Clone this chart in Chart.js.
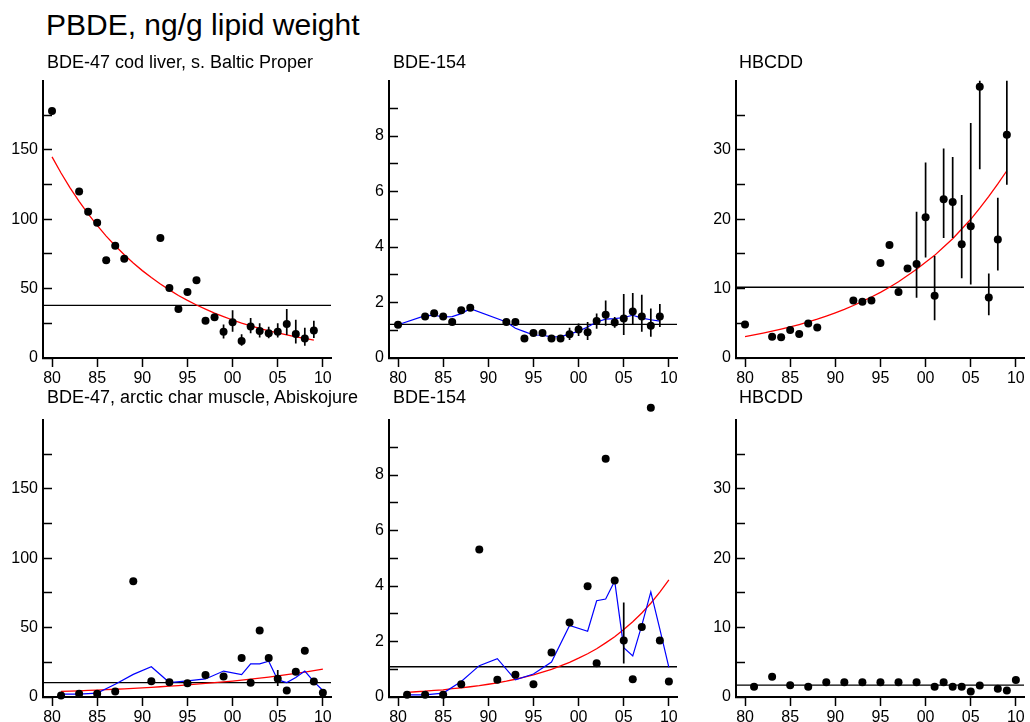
<!DOCTYPE html>
<html>
<head>
<meta charset="utf-8">
<script src="https://cdn.jsdelivr.net/npm/chart.js@4.4.0/dist/chart.umd.min.js"></script>
<style>
  body { margin: 0; background: #fff; }
  #page { position: relative; width: 1030px; height: 722px; overflow: hidden; background: #fff; font-family: 'Liberation Sans', Arial, sans-serif; color: #000; }
  #page canvas { position: absolute; }
  .title { position: absolute; left: 46px; top: 10px; font-size: 30px; line-height: 30px; white-space: nowrap; z-index: 2; }
  .sub { position: absolute; font-size: 18px; line-height: 18px; white-space: nowrap; z-index: 2; }
</style>
</head>
<body>
<div id="page">
  <div class="title">PBDE, ng/g lipid weight</div>
  <div class="sub" style="left:47px; top:53px">BDE-47 cod liver, s. Baltic Proper</div>
  <div class="sub" style="left:393px; top:53px">BDE-154</div>
  <div class="sub" style="left:739px; top:53px">HBCDD</div>
  <div class="sub" style="left:47px; top:388px">BDE-47, arctic char muscle, Abiskojure</div>
  <div class="sub" style="left:393px; top:388px">BDE-154</div>
  <div class="sub" style="left:739px; top:388px">HBCDD</div>
  <canvas id="c1"></canvas>
  <canvas id="c2"></canvas>
  <canvas id="c3"></canvas>
  <canvas id="c4"></canvas>
  <canvas id="c5"></canvas>
  <canvas id="c6"></canvas>
</div>
<script>
'use strict';

// x axis, shared by all six panels
const x_min = 1979;
const x_max = 2010.9;
const x_ticks = [1980, 1985, 1990, 1995, 2000, 2005, 2010];
const x_tick_labels = ['80', '85', '90', '95', '00', '05', '10'];

// y ticks: every tick is drawn, only some carry a label
const y_ticks_47 = [0, 25, 50, 75, 100, 125, 150, 175];
const y_labels_47 = [0, 50, 100, 150];
const y_ticks_154 = [0, 1, 2, 3, 4, 5, 6, 7, 8, 9];
const y_labels_154 = [0, 2, 4, 6, 8];
const y_ticks_hbcdd = [0, 5, 10, 15, 20, 25, 30, 35];
const y_labels_hbcdd = [0, 10, 20, 30];

// cod liver, southern Baltic Proper
const cod_years = [1980, 1983, 1984, 1985, 1986, 1987, 1988, 1992, 1993, 1994, 1995, 1996, 1997,
                   1998, 1999, 2000, 2001, 2002, 2003, 2004, 2005, 2006, 2007, 2008, 2009];
const cod_err_years = [1999, 2000, 2001, 2002, 2003, 2004, 2005, 2006, 2007, 2008, 2009];
const cod_trend_years = [1980, 1981, 1982, 1983, 1984, 1985, 1986, 1987, 1988, 1989, 1990, 1991, 1992, 1993, 1994,
                         1995, 1996, 1997, 1998, 1999, 2000, 2001, 2002, 2003, 2004, 2005, 2006, 2007, 2008, 2009];

const cod_bde47 = [178, 120, 105.5, 97.5, 70.5, 81, 71.5, 86.5, 50.5, 35.3, 47.5, 56, 26.8,
                   29.4, 19, 25.8, 12.3, 22.7, 19.4, 17.8, 19, 24.6, 17.3, 14, 19.9];
const cod_bde47_lo = [14.0, 19.0, 8.8, 17.8, 14.7, 14.2, 14.7, 16.6, 10.4, 8.8, 14.5];
const cod_bde47_hi = [24.2, 34.4, 17.1, 28.9, 25.1, 22.5, 25.1, 35.3, 27.5, 21.8, 26.8];
const cod_bde47_trend = [145, 133.4, 122.7, 112.9, 103.9, 95.6, 87.9, 80.9, 74.4, 68.5, 63.0, 58.0, 53.3, 49.1, 45.1,
                         41.5, 38.2, 35.2, 32.3, 29.8, 27.4, 25.2, 23.2, 21.3, 19.6, 18.1, 16.6, 15.3, 14.1, 12.9];
const cod_bde47_mean = 37.9;

const cod_bde154 = [1.20, 1.50, 1.61, 1.50, 1.30, 1.72, 1.81, 1.30, 1.30, 0.70, 0.90, 0.90, 0.70,
                    0.70, 0.86, 1.03, 0.93, 1.33, 1.56, 1.28, 1.42, 1.68, 1.50, 1.16, 1.50];
const cod_bde154_lo = [0.65, 0.79, 0.65, 1.05, 1.16, 1.09, 0.83, 1.21, 0.95, 0.77, 1.12];
const cod_bde154_hi = [1.09, 1.24, 1.30, 1.60, 2.07, 1.48, 2.31, 2.34, 2.28, 1.78, 1.95];
const cod_bde154_smooth = [1.20, 1.53, 1.54, 1.48, 1.49, 1.60, 1.78, 1.30, 1.07, 0.95, 0.83, 0.82, 0.76,
                           0.77, 0.86, 0.97, 1.12, 1.30, 1.40, 1.42, 1.46, 1.54, 1.44, 1.38, 1.33];
const cod_bde154_mean = 1.21;

const cod_hbcdd = [4.83, 3.08, 2.99, 4.03, 3.46, 4.98, 4.41, 8.29, 8.10, 8.29, 13.7, 16.3, 9.53,
                   12.9, 13.55, 20.3, 8.96, 22.9, 22.5, 16.4, 19.0, 39.1, 8.72, 17.1, 32.2];
const cod_hbcdd_lo = [8.67, 14.5, 5.45, 17.3, 17.3, 11.5, 10.6, 27.2, 6.16, 12.6, 25.0];
const cod_hbcdd_hi = [21.1, 28.2, 14.7, 30.2, 29.0, 23.5, 33.9, 40, 12.2, 23.1, 40];
const cod_hbcdd_trend = [3.08, 3.32, 3.58, 3.86, 4.16, 4.48, 4.83, 5.21, 5.61, 6.05, 6.52, 7.02, 7.57, 8.16, 8.79,
                         9.47, 10.2, 11.0, 11.9, 12.8, 13.8, 14.8, 16.0, 17.2, 18.6, 20.0, 21.6, 23.3, 25.1, 27.0];
const cod_hbcdd_mean = 10.2;

// arctic char muscle, Abiskojure
const char_years = [1981, 1983, 1985, 1987, 1989, 1991, 1993, 1995, 1997, 1999,
                    2001, 2002, 2003, 2004, 2005, 2006, 2007, 2008, 2009, 2010];
const char_err_years = [2005];
const char_trend_years = [1981, 1982, 1983, 1984, 1985, 1986, 1987, 1988, 1989, 1990, 1991, 1992, 1993, 1994, 1995,
                          1996, 1997, 1998, 1999, 2000, 2001, 2002, 2003, 2004, 2005, 2006, 2007, 2008, 2009, 2010];

const char_bde47 = [1.0, 2.4, 2.4, 4.0, 83.5, 11.4, 10.6, 9.9, 15.9, 14.7,
                    28.2, 10.2, 48.0, 28.2, 13.2, 4.7, 18.2, 33.4, 11.1, 3.1];
const char_bde47_smooth = [2.1, 2.1, 2.8, 9.2, 16.3, 21.8, 10.4, 11.6, 13.0, 18.7,
                           16.1, 23.9, 23.9, 25.8, 12.3, 10.4, 14.0, 18.7, 11.1, 4.7];
const char_bde47_lo = [8.0];
const char_bde47_hi = [19.4];
const char_bde47_trend = [4.0, 4.23, 4.47, 4.73, 5.0, 5.28, 5.59, 5.91, 6.25, 6.61, 6.99, 7.39, 7.81, 8.26, 8.73,
                          9.23, 9.76, 10.3, 10.9, 11.5, 12.2, 12.9, 13.6, 14.4, 15.2, 16.1, 17.0, 18.0, 19.0, 20.1];
const char_bde47_mean = 10.4;

const char_bde154 = [0.08, 0.08, 0.08, 0.46, 5.32, 0.62, 0.80, 0.46, 1.60, 2.69,
                     3.99, 1.22, 8.59, 4.20, 2.04, 0.64, 2.52, 10.43, 2.04, 0.56];
const char_bde154_smooth = [0.08, 0.08, 0.14, 0.56, 1.13, 1.38, 0.62, 0.83, 1.26, 2.58,
                            2.37, 3.47, 3.53, 4.18, 1.78, 1.48, 2.58, 3.79, 2.45, 1.07];
const char_bde154_lo = [1.21];
const char_bde154_hi = [3.41];
const char_bde154_trend = [0.17, 0.19, 0.21, 0.24, 0.26, 0.30, 0.33, 0.37, 0.41, 0.46, 0.51, 0.57, 0.64, 0.72, 0.80,
                           0.90, 1.00, 1.12, 1.25, 1.40, 1.56, 1.74, 1.95, 2.17, 2.43, 2.71, 3.03, 3.38, 3.78, 4.22];
const char_bde154_mean = 1.09;

const char_hbcdd_years = [1981, 1983, 1985, 1987, 1989, 1991, 1993, 1995, 1997, 1999,
                          2001, 2002, 2003, 2004, 2005, 2006, 2008, 2009, 2010];
const char_hbcdd = [1.47, 2.93, 1.70, 1.47, 2.13, 2.13, 2.13, 2.13, 2.13, 2.13,
                    1.47, 2.13, 1.47, 1.47, 0.80, 1.66, 1.18, 0.95, 2.46];
const char_hbcdd_mean = 1.70;

const FONT = "'Liberation Sans', Arial, sans-serif";
const AXIS_W = 43;      // room for the y labels, left of the plot
const CANVAS_W = 360;
const PAD_TOP = 20;
const X_AXIS_H = 32;
const DOT_R = 4;

const pairs = (xs, ys) => xs.map((x, i) => ({ x: x, y: ys[i] }));

// error bars as one broken line: lo, hi, gap, lo, hi, gap ...
const error_bars = (xs, lo, hi) => {
    const out = [];
    xs.forEach((x, i) => {
        out.push({ x: x, y: lo[i] }, { x: x, y: hi[i] }, { x: x, y: null });
    });
    return out;
};

// Chart.js skips points outside the chart area, the original still shows them
const overflow_points = {
    id: 'overflow_points',
    afterDatasetsDraw(chart) {
        const area = chart.chartArea;
        const ctx = chart.ctx;
        ctx.save();
        ctx.fillStyle = '#000';
        for (const pt of chart.getDatasetMeta(0).data) {
            if (pt.y < area.top) {
                ctx.beginPath();
                ctx.arc(pt.x, pt.y, DOT_R, 0, Math.PI * 2);
                ctx.fill();
            }
        }
        ctx.restore();
    }
};

const make_panel = (id, box, p) => {
    const canvas = document.getElementById(id);
    const h = (box.bottom - box.top) + PAD_TOP + X_AXIS_H;
    canvas.width = CANVAS_W;
    canvas.height = h;
    canvas.style.width = CANVAS_W + 'px';
    canvas.style.height = h + 'px';
    canvas.style.left = (box.left - AXIS_W) + 'px';
    canvas.style.top = (box.top - PAD_TOP) + 'px';

    const datasets = [];
    datasets.push({
        data: pairs(p.years, p.values),
        showLine: false,
        pointRadius: DOT_R,
        pointBorderWidth: 0,
        pointBackgroundColor: '#000',
        clip: false
    });
    if (p.err_years) {
        datasets.push({
            data: error_bars(p.err_years, p.lo, p.hi),
            borderColor: '#000',
            borderWidth: 1.7,
            pointRadius: 0,
            spanGaps: false
        });
    }
    if (p.smooth) {
        datasets.push({
            data: pairs(p.years, p.smooth),
            borderColor: '#0000ff',
            borderWidth: 1.2,
            pointRadius: 0
        });
    }
    if (p.trend) {
        datasets.push({
            data: pairs(p.trend_years, p.trend),
            borderColor: '#ff0000',
            borderWidth: 1.3,
            pointRadius: 0
        });
    }
    datasets.push({
        data: [{ x: x_min, y: p.mean }, { x: x_max, y: p.mean }],
        borderColor: '#000',
        borderWidth: 1.3,
        pointRadius: 0
    });

    new Chart(canvas, {
        type: 'line',
        data: { datasets: datasets },
        plugins: [overflow_points],
        options: {
            responsive: false,
            animation: false,
            devicePixelRatio: 1,
            layout: { padding: { top: PAD_TOP, left: 0, bottom: 0, right: CANVAS_W - AXIS_W - (box.right - box.left) } },
            plugins: { legend: { display: false }, tooltip: { enabled: false }, title: { display: false } },
            scales: {
                x: {
                    type: 'linear',
                    min: x_min,
                    max: x_max,
                    afterBuildTicks: s => { s.ticks = x_ticks.map(v => ({ value: v })); },
                    afterFit: s => { s.height = X_AXIS_H; },
                    ticks: {
                        autoSkip: false,
                        maxRotation: 0,
                        padding: 2,
                        color: '#000',
                        font: { family: FONT, size: 16 },
                        callback: v => x_tick_labels[x_ticks.indexOf(v)]
                    },
                    grid: { drawOnChartArea: false, drawTicks: true, tickLength: 9, tickColor: '#000', tickWidth: 1.5 },
                    border: { display: true, color: '#000', width: 2 }
                },
                y: {
                    type: 'linear',
                    min: 0,
                    max: p.y_max,
                    afterBuildTicks: s => { s.ticks = p.y_ticks.map(v => ({ value: v })); },
                    afterFit: s => { s.width = AXIS_W; },
                    ticks: {
                        autoSkip: false,
                        padding: 14,
                        color: '#000',
                        font: { family: FONT, size: 16 },
                        callback: v => p.y_labels.includes(v) ? String(v) : ''
                    },
                    // negative length puts the tick marks inside the plot
                    grid: { drawOnChartArea: false, drawTicks: true, tickLength: -9, tickColor: '#000', tickWidth: 1.5 },
                    border: { display: true, color: '#000', width: 2 }
                }
            }
        }
    });
};

make_panel('c1', { left: 43, right: 331, top: 77, bottom: 358 }, {
    years: cod_years, values: cod_bde47,
    err_years: cod_err_years, lo: cod_bde47_lo, hi: cod_bde47_hi,
    trend_years: cod_trend_years, trend: cod_bde47_trend,
    mean: cod_bde47_mean, y_max: 200, y_ticks: y_ticks_47, y_labels: y_labels_47
});
make_panel('c2', { left: 389, right: 677, top: 77, bottom: 358 }, {
    years: cod_years, values: cod_bde154,
    err_years: cod_err_years, lo: cod_bde154_lo, hi: cod_bde154_hi,
    smooth: cod_bde154_smooth,
    mean: cod_bde154_mean, y_max: 10, y_ticks: y_ticks_154, y_labels: y_labels_154
});
make_panel('c3', { left: 736, right: 1024, top: 77, bottom: 358 }, {
    years: cod_years, values: cod_hbcdd,
    err_years: cod_err_years, lo: cod_hbcdd_lo, hi: cod_hbcdd_hi,
    trend_years: cod_trend_years, trend: cod_hbcdd_trend,
    mean: cod_hbcdd_mean, y_max: 40, y_ticks: y_ticks_hbcdd, y_labels: y_labels_hbcdd
});
make_panel('c4', { left: 43, right: 331, top: 416, bottom: 697 }, {
    years: char_years, values: char_bde47,
    err_years: char_err_years, lo: char_bde47_lo, hi: char_bde47_hi,
    smooth: char_bde47_smooth,
    trend_years: char_trend_years, trend: char_bde47_trend,
    mean: char_bde47_mean, y_max: 200, y_ticks: y_ticks_47, y_labels: y_labels_47
});
make_panel('c5', { left: 389, right: 677, top: 416, bottom: 697 }, {
    years: char_years, values: char_bde154,
    err_years: char_err_years, lo: char_bde154_lo, hi: char_bde154_hi,
    smooth: char_bde154_smooth,
    trend_years: char_trend_years, trend: char_bde154_trend,
    mean: char_bde154_mean, y_max: 10, y_ticks: y_ticks_154, y_labels: y_labels_154
});
make_panel('c6', { left: 736, right: 1024, top: 416, bottom: 697 }, {
    years: char_hbcdd_years, values: char_hbcdd,
    mean: char_hbcdd_mean, y_max: 40, y_ticks: y_ticks_hbcdd, y_labels: y_labels_hbcdd
});
</script>
</body>
</html>
